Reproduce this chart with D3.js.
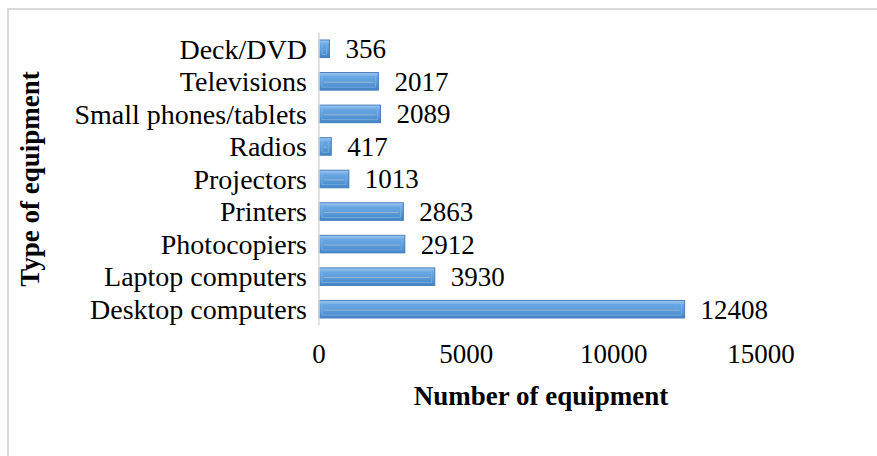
<!DOCTYPE html>
<html><head><meta charset="utf-8">
<script src="https://cdn.jsdelivr.net/npm/d3@7"></script>
<style>
html,body{margin:0;padding:0;background:#fff;}
svg{display:block;font-family:"Liberation Serif","Times New Roman",serif;}
</style></head>
<body>
<svg id="chart" width="877" height="456"></svg>
<script>
// Data (top-to-bottom order as drawn)
const categories = ["Deck/DVD","Televisions","Small phones/tablets","Radios","Projectors","Printers","Photocopiers","Laptop computers","Desktop computers"];
const values = [356, 2017, 2089, 417, 1013, 2863, 2912, 3930, 12408];
const xTicks = [0, 5000, 10000, 15000];
const xTitle = "Number of equipment";
const yTitle = "Type of equipment";

const svg = d3.select("#chart");
const FS = 27;

// chart border
svg.append("rect").attr("x", 8).attr("y", 9).attr("width", 880).attr("height", 460)
  .attr("fill", "none").attr("stroke", "#d9d9d9").attr("stroke-width", 2);

const x = d3.scaleLinear().domain([0, 15000]).range([319, 761]);
const y = d3.scaleBand().domain(categories).range([32.5, 325.5]).paddingInner(0.46).paddingOuter(0.23);

const defs = svg.append("defs");
const grad = defs.append("linearGradient").attr("id", "barGrad").attr("x1", 0).attr("y1", 0).attr("x2", 0).attr("y2", 1);
grad.append("stop").attr("offset", "0%").attr("stop-color", "#a3cdf2");
grad.append("stop").attr("offset", "22%").attr("stop-color", "#69a8e4");
grad.append("stop").attr("offset", "55%").attr("stop-color", "#5c9dda");
grad.append("stop").attr("offset", "100%").attr("stop-color", "#4283c6");

// bars
const bars = svg.append("g").selectAll("g").data(categories).join("g");
bars.append("rect")
  .attr("x", x(0)).attr("y", d => y(d))
  .attr("width", (d, i) => x(values[i]) - x(0))
  .attr("height", y.bandwidth())
  .attr("fill", "url(#barGrad)")
  .attr("stroke", "#4a7ebb").attr("stroke-width", 1);
// bevel inner highlight
bars.append("rect")
  .attr("x", x(0) + 3).attr("y", d => y(d) + 3)
  .attr("width", (d, i) => Math.max(0, x(values[i]) - x(0) - 6))
  .attr("height", Math.max(0, y.bandwidth() - 6))
  .attr("fill", "none")
  .attr("stroke", "#86b8e6").attr("stroke-width", 0.8).attr("opacity", 0.8);
bars.append("line")
  .attr("x1", x(0) + 5).attr("x2", (d, i) => Math.max(x(0) + 5, x(values[i]) - 5))
  .attr("y1", d => y(d) + y.bandwidth() * 0.55).attr("y2", d => y(d) + y.bandwidth() * 0.55)
  .attr("stroke", "#a6bdd2").attr("stroke-width", 1).attr("opacity", 0.8);

// value labels
bars.append("text")
  .attr("x", (d, i) => x(values[i]) + 16)
  .attr("y", d => y(d) + y.bandwidth() / 2)
  .attr("dy", "0.35em")
  .attr("font-size", FS).attr("fill", "#000")
  .text((d, i) => values[i]);

// y axis line
svg.append("line").attr("x1", x(0)).attr("x2", x(0)).attr("y1", 32.5).attr("y2", 325.5)
  .attr("stroke", "#d9d9d9").attr("stroke-width", 1.5);

// category labels
svg.append("g").selectAll("text").data(categories).join("text")
  .attr("x", 307).attr("y", d => y(d) + y.bandwidth() / 2).attr("dy", "0.35em")
  .attr("text-anchor", "end").attr("font-size", 28).attr("fill", "#000")
  .text(d => d);

// x tick labels
svg.append("g").selectAll("text").data(xTicks).join("text")
  .attr("x", d => x(d)).attr("y", 363)
  .attr("text-anchor", "middle").attr("font-size", FS).attr("fill", "#000")
  .text(d => d);

// axis titles
svg.append("text").attr("x", 541).attr("y", 405).attr("text-anchor", "middle")
  .attr("font-size", FS).attr("font-weight", "bold").text(xTitle);
svg.append("text").attr("transform", "translate(39,179) rotate(-90)").attr("text-anchor", "middle")
  .attr("font-size", FS).attr("font-weight", "bold").text(yTitle);
</script>
</body></html>
